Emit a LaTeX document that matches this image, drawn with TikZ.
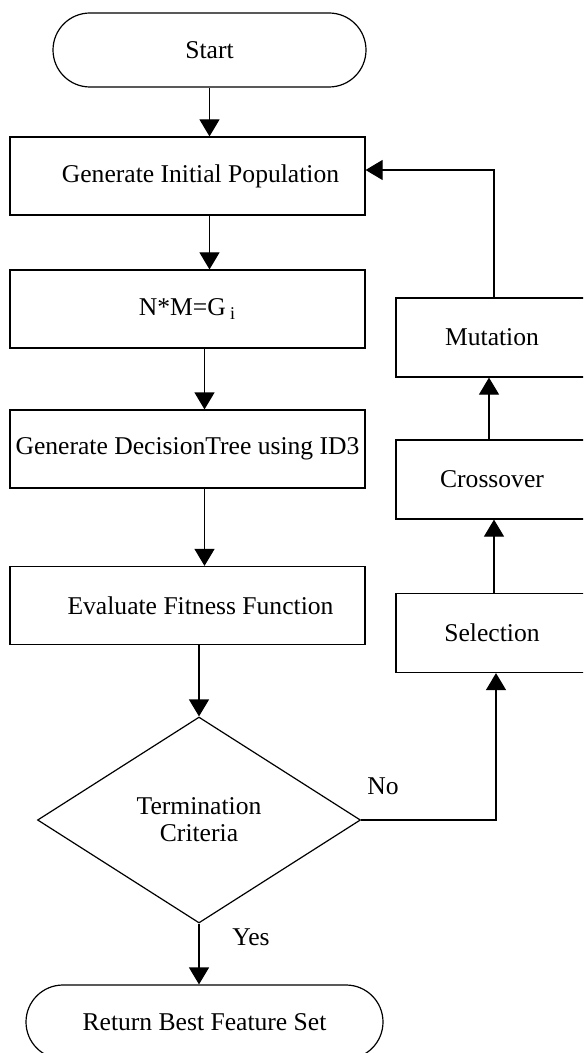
\documentclass[tikz,border=0pt]{standalone}
\usepackage{fontspec}
\setmainfont{Liberation Serif}
\usetikzlibrary{shapes.geometric, arrows.meta}

\begin{document}
\begin{tikzpicture}[x=0.5pt, y=-0.5pt,
  boxnode/.style={rectangle, draw, line width=0.6pt, minimum width=177.5pt, minimum height=39pt, inner xsep=1pt},
  endnode/.style={rectangle, rounded corners=18.5pt, draw, line width=0.6pt, minimum height=37pt},
  decnode/.style={diamond, draw, line width=0.6pt, minimum width=161.5pt, minimum height=103pt, inner sep=0pt, align=center},
  sidenode/.style={rectangle, draw, line width=0.6pt, minimum width=96pt, minimum height=39.5pt},
  >={Triangle[width=10pt, length=8.5pt]}, line width=0.6pt,
  font=\fontsize{12.8}{13.5}\selectfont]
\clip (0,0) rectangle (583,1053);
% main column
\node[endnode, minimum width=156.5pt] at (209.5, 50) (start) {Start};
\node[boxnode] at (187.5, 176) (gen) {\hspace*{13pt}Generate Initial Population};
\node[boxnode] at (187.5, 309) (nmg) {N*M=G\,\textsubscript{i}};
\node[boxnode] at (187.5, 449) (tree) {Generate DecisionTree using ID3};
\node[boxnode] at (187.5, 605.5) (eval) {\hspace*{13pt}Evaluate Fitness Function};
\node[decnode] at (199, 820) (crit) {Termination\\Criteria};
\node[endnode, minimum width=178.5pt] at (204.5, 1022) (ret) {Return Best Feature Set};
% loop column
\node[sidenode] at (492, 337.5) (mut) {Mutation};
\node[sidenode] at (492, 479.5) (cro) {Crossover};
\node[sidenode] at (492, 633) (sel) {Selection};
\node at (383, 786) (no) {No};
\node at (251, 937) (yes) {Yes};
\draw[->] (start.south) -- (start.south |- gen.north);
\draw[->] (start.south |- gen.south) -- (start.south |- nmg.north);
\draw[->] ([xshift=8.5pt]nmg.south) -- ([xshift=8.5pt]tree.north);
\draw[->] ([xshift=8.5pt]tree.south) -- ([xshift=8.5pt]eval.north);
\draw[->] ([xshift=5.75pt]eval.south) -- (crit.north);
\draw[->] (crit.south) -- (crit.south |- ret.north);
\draw[->] (crit.east) -| ([xshift=2pt]sel.south);
\draw[->] ([xshift=1pt]sel.north) -- ([xshift=1pt]cro.south);
\draw[->] ([xshift=-1.5pt]cro.north) -- ([xshift=-1.5pt]mut.south);
\draw[->] ([xshift=1pt]mut.north) |- ([yshift=3pt]gen.east);
\end{tikzpicture}
\end{document}
